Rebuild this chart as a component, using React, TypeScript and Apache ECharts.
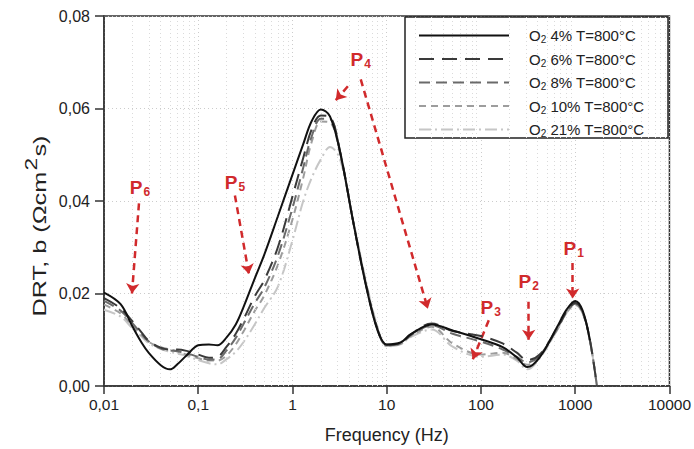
import React, { useEffect, useRef } from 'react';
import * as echarts from 'echarts';

// Frequency grid (Hz) at which the DRT curves were read
const frequencies = [0.01, 0.015, 0.02, 0.025, 0.03, 0.04, 0.05, 0.06, 0.075, 0.1, 0.13, 0.16, 0.2, 0.25, 0.3, 0.4, 0.5, 0.7, 1.0, 1.3, 1.6, 2.0, 2.5, 3.2, 4.4, 6, 8, 10, 14, 18, 30, 50, 100, 170, 240, 310, 420, 640, 810, 1000, 1200, 1430, 1700];

const o2_4 = [0.0202, 0.0177, 0.0129, 0.0094, 0.0071, 0.0045, 0.0036, 0.0047, 0.0066, 0.0088, 0.0090, 0.0088, 0.0105, 0.0133, 0.0169, 0.0234, 0.0283, 0.0367, 0.0457, 0.0523, 0.0573, 0.0598, 0.0583, 0.0506, 0.0356, 0.0219, 0.0120, 0.0090, 0.0094, 0.0112, 0.0133, 0.0120, 0.0101, 0.0084, 0.0062, 0.0041, 0.0062, 0.0127, 0.0165, 0.0184, 0.0163, 0.0099, null];
const o2_6 = [0.0190, 0.0168, 0.0140, 0.0116, 0.0097, 0.0083, 0.0079, 0.0079, 0.0076, 0.0068, 0.0061, 0.0063, 0.0085, 0.0113, 0.0143, 0.0195, 0.0228, 0.0300, 0.0410, 0.0493, 0.0555, 0.0585, 0.0582, 0.0507, 0.0356, 0.0220, 0.0122, 0.0089, 0.0093, 0.0111, 0.0135, 0.0119, 0.0108, 0.0092, 0.0072, 0.0056, 0.0068, 0.0124, 0.0161, 0.0180, 0.0160, 0.0100, 0.0000];
const o2_8 = [0.0184, 0.0163, 0.0136, 0.0113, 0.0096, 0.0081, 0.0077, 0.0075, 0.0071, 0.0063, 0.0057, 0.0058, 0.0077, 0.0104, 0.0133, 0.0180, 0.0212, 0.0282, 0.0385, 0.0472, 0.0540, 0.0578, 0.0577, 0.0505, 0.0356, 0.0222, 0.0123, 0.0088, 0.0092, 0.0110, 0.0131, 0.0113, 0.0096, 0.0079, 0.0063, 0.0051, 0.0066, 0.0123, 0.0160, 0.0178, 0.0159, 0.0100, 0.0000];
const o2_10 = [0.0176, 0.0157, 0.0130, 0.0110, 0.0095, 0.0084, 0.0079, 0.0075, 0.0068, 0.0060, 0.0055, 0.0055, 0.0066, 0.0090, 0.0117, 0.0163, 0.0195, 0.0262, 0.0360, 0.0450, 0.0528, 0.0572, 0.0570, 0.0502, 0.0358, 0.0224, 0.0125, 0.0087, 0.0091, 0.0108, 0.0128, 0.0092, 0.0068, 0.0072, 0.0058, 0.0046, 0.0064, 0.0121, 0.0159, 0.0176, 0.0158, 0.0100, 0.0000];
const o2_21 = [0.0165, 0.0150, 0.0125, 0.0107, 0.0092, 0.0080, 0.0074, 0.0070, 0.0065, 0.0056, 0.0049, 0.0047, 0.0058, 0.0074, 0.0094, 0.0134, 0.0168, 0.0215, 0.0315, 0.0400, 0.0450, 0.0490, 0.0517, 0.0490, 0.0358, 0.0228, 0.0127, 0.0086, 0.0090, 0.0106, 0.0122, 0.0085, 0.0063, 0.0068, 0.0055, 0.0036, 0.0060, 0.0120, 0.0158, 0.0175, 0.0157, 0.0100, 0.0000];

const concentrations = ['4%', '6%', '8%', '10%', '21%'];
const temperatureLabel = 'T=800°C';
const seriesValues = [o2_4, o2_6, o2_8, o2_10, o2_21];
const seriesColors = ['#111111', '#3a3a3a', '#6a6a6a', '#9d9d9d', '#c6c6c6'];
const seriesDashes: any[] = ['solid', [15, 8], [11, 6], [7, 5], [12, 4, 2, 4]];

const xTickLabels = ['0,01', '0,1', '1', '10', '100', '1000', '10000'];
const yTickLabels = ['0,00', '0,02', '0,04', '0,06', '0,08'];
const decadeStarts = [0.01, 0.1, 1, 10, 100, 1000];
const minorMultipliers = [2, 3, 4, 5, 6, 7, 8, 9];

// Peak annotations (data coordinates: frequency, DRT)
const peakLabels = [
  { sub: '1', f: 964, v: 0.0298 },
  { sub: '2', f: 321, v: 0.0227 },
  { sub: '3', f: 127, v: 0.0169 },
  { sub: '4', f: 5.3, v: 0.0706 },
  { sub: '5', f: 0.245, v: 0.0440 },
  { sub: '6', f: 0.0241, v: 0.0429 },
];
const peakArrows = [
  [[940, 0.0266], [940, 0.0189]],
  [[321, 0.0182], [321, 0.0100]],
  [[121, 0.0142], [82, 0.0058]],
  [[5.3, 0.0663], [27.3, 0.0167]],
  [[3.87, 0.0648], [2.88, 0.0618]],
  [[0.245, 0.0412], [0.345, 0.0242]],
  [[0.0235, 0.0395], [0.0198, 0.0200]],
];

const FONT = '"Liberation Sans", Arial, sans-serif';

export default function App() {
  const ref = useRef<HTMLDivElement>(null);
  useEffect(() => {
    if (!ref.current) return;
    const chart = echarts.init(ref.current, undefined, { renderer: 'svg' });
    const names = concentrations.map((c) => `O2 ${c} ${temperatureLabel}`);
    const minorFreqs: number[] = [];
    decadeStarts.forEach((d) => minorMultipliers.forEach((m) => minorFreqs.push(d * m)));
    const red = '#d12a2c';

    const option: any = {
      animation: false,
      backgroundColor: '#ffffff',
      textStyle: { fontFamily: FONT },
      grid: { left: 104, top: 16, right: 24, bottom: 60, show: true, borderColor: '#333', borderWidth: 1.5 },
      xAxis: {
        type: 'log', logBase: 10, min: 0.01, max: 10000, splitNumber: 6,
        axisLine: { show: true, lineStyle: { color: '#333', width: 1.5 } },
        axisTick: { show: true, inside: false, length: 8, lineStyle: { color: '#333', width: 1.5 } },
        axisLabel: {
          margin: 10, fontSize: 15.5, color: '#222', fontFamily: FONT,
          formatter: (v: number) => xTickLabels[Math.round(Math.log10(v)) + 2] ?? '',
        },
        splitLine: { show: true, lineStyle: { color: '#cccccc', type: [1, 3], width: 1 } },
        name: 'Frequency (Hz)', nameLocation: 'middle', nameGap: 40,
        nameTextStyle: { fontSize: 18, color: '#222', fontFamily: FONT },
      },
      yAxis: {
        type: 'value', min: 0, max: 0.08, interval: 0.02,
        axisLine: { show: true, lineStyle: { color: '#333', width: 1.5 } },
        axisTick: { show: true, inside: false, length: 9, lineStyle: { color: '#333', width: 1.5 } },
        axisLabel: {
          margin: 14, fontSize: 16, color: '#222', fontFamily: FONT,
          formatter: (v: number) => yTickLabels[Math.round(v / 0.02)] ?? '',
        },
        splitLine: { show: true, lineStyle: { color: '#cccccc', type: [1, 3], width: 1 } },
      },
      legend: {
        data: names, orient: 'vertical', left: 418, top: 28, padding: 0,
        itemWidth: 90, itemHeight: 14, itemGap: 7, z: 10,
        itemStyle: { opacity: 0, borderWidth: 0 },
        textStyle: {
          fontSize: 15, color: '#222', fontFamily: FONT, padding: [0, 0, 0, 15],
          rich: { sub: { fontSize: 10, color: '#222', fontFamily: FONT, padding: [8, 0, 0, 0] } },
        },
        formatter: (name: string) => name.replace(/^O2/, 'O{sub|2}'),
      },
      graphic: [
        {
          type: 'rect', z: 5, silent: true,
          shape: { x: 405, y: 17, width: 263, height: 121 },
          style: { fill: '#ffffff', stroke: '#222', lineWidth: 1.5 },
        },
        {
          type: 'text', x: 40, y: 226, rotation: Math.PI / 2, scaleX: 1.33, z: 5,
          style: {
            text: '{t|DRT, b (Ωcm}{sup|2}{t|s)}',
            align: 'center', verticalAlign: 'middle',
            rich: {
              t: { fontSize: 19, fill: '#222', fontFamily: FONT },
              sup: { fontSize: 17, fill: '#222', fontFamily: FONT, padding: [0, 1, 18, 1] },
            },
          },
        },
      ],
      series: [
        {
          type: 'line', name: 'minor-grid', data: [], silent: true, z: 1,
          markLine: {
            silent: true, symbol: ['none', 'none'], label: { show: false },
            lineStyle: { color: '#dadada', type: [1, 3], width: 1 },
            data: minorFreqs.map((f) => ({ xAxis: f })),
          },
        },
        ...names.map((n, i) => ({
          type: 'line', name: n,
          data: frequencies.map((f, j) => [f, seriesValues[i][j]]),
          showSymbol: false, symbol: 'none', smooth: 0.35, connectNulls: false,
          lineStyle: { color: seriesColors[i], width: 2, type: seriesDashes[i] },
          itemStyle: { color: seriesColors[i] },
          z: 7 - i,
        })),
        {
          type: 'line', name: 'annotations', data: [], silent: true, z: 9,
          markLine: {
            silent: true, symbol: ['none', 'arrow'], symbolSize: [10, 10],
            label: { show: false },
            lineStyle: { color: red, type: [7, 5], width: 2.5 },
            data: peakArrows.map(([a, b]) => [{ coord: a }, { coord: b }]),
          },
          markPoint: {
            silent: true, symbol: 'circle', symbolSize: 1,
            itemStyle: { color: 'rgba(0,0,0,0)' },
            label: {
              show: true, position: 'inside',
              formatter: (p: any) => `{p|P}{s|${p.data.sub}}`,
              rich: {
                p: { fontSize: 19, fontWeight: 'bold', color: red, fontFamily: FONT },
                s: { fontSize: 12, fontWeight: 'bold', color: red, fontFamily: FONT, padding: [9, 0, 0, 1] },
              },
            },
            data: peakLabels.map((l) => ({ coord: [l.f, l.v], sub: l.sub })),
          },
        },
      ],
    };
    chart.setOption(option);
    return () => chart.dispose();
  }, []);
  return <div ref={ref} style={{ position: 'absolute', left: 0, top: 0, width: 694, height: 449 }} />;
}
